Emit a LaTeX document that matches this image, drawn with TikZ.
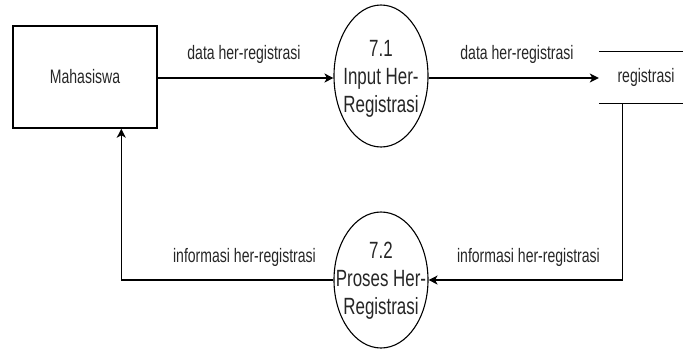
\documentclass[tikz,border=0pt]{standalone}
\usepackage{fontspec}
\setmainfont{Liberation Sans}[FakeStretch=0.72]
\usetikzlibrary{shapes.geometric,arrows.meta}

\begin{document}
\begin{tikzpicture}[x=1pt,y=-1pt,
  every node/.style={text=black!85},
  flow/.style={line width=1.3pt,-{Stealth[length=9pt,width=9pt,inset=2.5pt]}},
  line/.style={line width=1.3pt},
  entity/.style={draw,line width=1.4pt,minimum width=144pt,minimum height=102pt,inner sep=0pt,font=\fontsize{19.5}{23}\selectfont},
  process/.style={draw,ellipse,line width=1.1pt,minimum width=94pt,inner sep=0pt},
  proctext/.style={align=center,font=\fontsize{23.5}{28}\selectfont,inner sep=0pt},
  flowlabel/.style={anchor=base,inner sep=0pt,font=\fontsize{19.5}{23}\selectfont},
  store/.style={minimum width=94pt,minimum height=51pt,inner sep=0pt,font=\fontsize{19.5}{23}\selectfont}]
  \useasboundingbox (0,0) rectangle (683,349);
  \clip (0,0) rectangle (683,349);

  % external entity
  \node[entity] (mhs) at (85,77) {Mahasiswa};

  % processes
  \node[process,minimum height=142pt] (p71) at (381,76) {};
  \node[proctext] (p71t) at (381,79) {7.1\\Input Her-\\Registrasi};
  \node[process,minimum height=136pt] (p72) at (381,280) {};
  \node[proctext] (p72t) at (381,281) {7.2\\Proses Her-\\Registrasi};

  % data store (open on the right)
  \node[store] (reg) at (646,77.5) {registrasi};
  \draw[line] (reg.north west) -- ++(100,0);
  \draw[line] (reg.south west) -- ++(100,0);

  % data flows
  \draw[flow] (mhs.east |- 0,78) -- (p71.west |- 0,78);
  \draw[flow] (p71.east |- 0,78) -- (reg.west |- 0,78);
  \coordinate (drop) at ([xshift=24pt]reg.south west);
  \draw[flow] (drop) |- (p72.east);
  \coordinate (rise) at ([xshift=109pt]mhs.south west);
  \draw[flow] (p72.west) -| (rise);

  % flow labels
  \node[flowlabel] (l1) at (244,59) {data her-registrasi};
  \node[flowlabel] (l2) at (517,59) {data her-registrasi};
  \node[flowlabel] (l3) at (244.5,262) {informasi her-registrasi};
  \node[flowlabel] (l4) at (528.5,262) {informasi her-registrasi};
\end{tikzpicture}
\end{document}
